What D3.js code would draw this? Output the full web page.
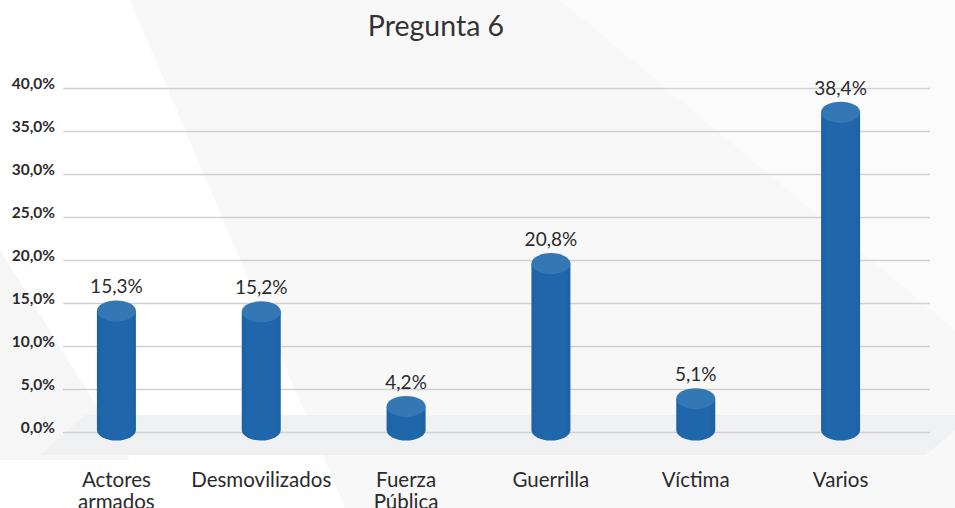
<!DOCTYPE html>
<html>
<head>
<meta charset="utf-8">
<script src="https://cdn.jsdelivr.net/npm/d3@7"></script>
<style>
  html, body { margin: 0; padding: 0; background: #ffffff; }
  svg { display: block; font-family: Lato, "Open Sans", sans-serif; }
</style>
</head>
<body>
<svg id="chart" width="955" height="508"></svg>
<script>
// ---- data ----
const title = "Pregunta 6";
const categories = ["Actores armados", "Desmovilizados", "Fuerza Pública", "Guerrilla", "Víctima", "Varios"];
const categoryLines = [["Actores", "armados"], ["Desmovilizados"], ["Fuerza", "Pública"], ["Guerrilla"], ["Víctima"], ["Varios"]];
const values = [15.3, 15.2, 4.2, 20.8, 5.1, 38.4];
const valueLabels = ["15,3%", "15,2%", "4,2%", "20,8%", "5,1%", "38,4%"];
const tickValues = [0, 5, 10, 15, 20, 25, 30, 35, 40];
const tickLabels = ["0,0%", "5,0%", "10,0%", "15,0%", "20,0%", "25,0%", "30,0%", "35,0%", "40,0%"];

// ---- layout ----
const W = 955, H = 508;
const svg = d3.select("#chart");

const y = d3.scaleLinear().domain([0, 40]).range([432, 88]);
const x = d3.scaleBand().domain(categories).range([44, 913]).padding(0);
const gridX0 = 63, gridX1 = 930;

// ---- background ----
svg.append("rect").attr("width", W).attr("height", H).attr("fill", "#f8f8f9");
const bgPolys = [
  [[0,0],[130,0],[345,508],[0,508]],
];
svg.append("g").selectAll("path").data(bgPolys).join("path")
  .attr("d", d => "M" + d.map(p => p.join(",")).join("L") + "Z")
  .attr("fill", "#ffffff");
svg.append("path")
  .attr("d", "M0,250L130,460L0,460Z")
  .attr("fill", "#f6f6f7");
svg.append("path")
  .attr("d", "M560,0L955,0L955,330Z")
  .attr("fill", "#fbfbfb");

// ---- floor band ----
svg.append("path")
  .attr("d", `M40,455L85,415L${W+20},415L925,455Z`)
  .attr("fill", "#f0f1f3");

// ---- y axis with gridlines ----
const axis = d3.axisLeft(y)
  .tickValues(tickValues)
  .tickFormat((d, i) => tickLabels[i])
  .tickSize(-(gridX1 - gridX0))
  .tickPadding(8);
const gAxis = svg.append("g").attr("transform", `translate(${gridX0},0)`).call(axis);
gAxis.select(".domain").remove();
gAxis.selectAll(".tick line").attr("stroke", "#d1d1d4").attr("stroke-width", 1.7);
gAxis.selectAll(".tick text")
  .attr("fill", "#2b2b2b")
  .attr("font-size", 15.5)
  .attr("font-weight", 700)
  .attr("dy", "0.05em")
  .attr("font-family", "Lato, sans-serif");

// ---- cylinders ----
const rx = 19.5, ry = 10.5;
const defs = svg.append("defs");
const grad = defs.append("linearGradient").attr("id", "side").attr("x1", "0").attr("x2", "1");
grad.append("stop").attr("offset", "0").attr("stop-color", "#1c62a4");
grad.append("stop").attr("offset", "0.15").attr("stop-color", "#1f67aa");
grad.append("stop").attr("offset", "0.85").attr("stop-color", "#1f67aa");
grad.append("stop").attr("offset", "1").attr("stop-color", "#1c62a4");

const bars = svg.append("g").selectAll("g").data(values).join("g");
bars.each(function(v, i) {
  const g = d3.select(this);
  const cx = x(categories[i]) + x.bandwidth() / 2;
  const topC = y(v) + ry;        // top ellipse centre
  const botC = y(0) - 2;         // bottom ellipse centre
  g.append("path")
    .attr("d", `M${cx - rx},${topC} L${cx - rx},${botC} A${rx},${ry} 0 0 0 ${cx + rx},${botC} L${cx + rx},${topC} Z`)
    .attr("fill", "url(#side)");
  g.append("ellipse")
    .attr("cx", cx).attr("cy", topC).attr("rx", rx).attr("ry", ry)
    .attr("fill", "#3378b5");
  g.append("text")
    .attr("x", cx).attr("y", y(v) - 7)
    .attr("text-anchor", "middle")
    .attr("font-size", 19)
    .attr("fill", "#2b2b2b")
    .text(valueLabels[i]);
});

// ---- category labels ----
const cat = svg.append("g").selectAll("text").data(categories).join("text")
  .attr("x", d => x(d) + x.bandwidth() / 2)
  .attr("y", 487)
  .attr("text-anchor", "middle")
  .attr("font-size", 20.5)
  .attr("fill", "#2b2b2b");
cat.each(function(d, i) {
  const t = d3.select(this);
  categoryLines[i].forEach((line, j) => {
    t.append("tspan").attr("x", x(d) + x.bandwidth() / 2).attr("dy", j === 0 ? 0 : 22).text(line);
  });
});

// ---- title ----
svg.append("text")
  .attr("x", 436).attr("y", 36)
  .attr("text-anchor", "middle")
  .attr("font-size", 28.5)
  .attr("fill", "#333333")
  .text(title);
</script>
</body>
</html>
